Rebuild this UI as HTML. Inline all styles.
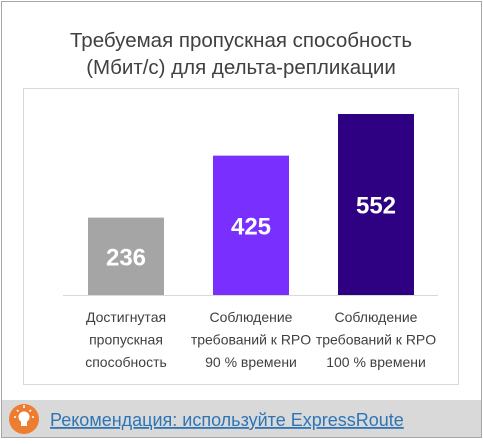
<!DOCTYPE html>
<html><head><meta charset="utf-8"><style>
body{margin:0;width:483px;height:439px;overflow:hidden;background:#fff;font-family:"Segoe UI","Liberation Sans","DejaVu Sans",sans-serif}
</style></head><body>
<svg width="483" height="439" xmlns="http://www.w3.org/2000/svg" font-family="'Liberation Sans','DejaVu Sans',sans-serif">
<rect x="1.5" y="1.5" width="480" height="436" fill="#fff" stroke="#a6a6a6"/>
<text x="241" y="47" text-anchor="middle" font-size="20.5" fill="#404040">Требуемая пропускная способность</text>
<text x="241" y="74" text-anchor="middle" font-size="20.5" fill="#404040">(Мбит/с) для дельта-репликации</text>
<rect x="23.5" y="88.5" width="435" height="296" fill="#fff" stroke="#d9d9d9"/>
<g id="bars"></g>
<line x1="63" x2="438" y1="295.5" y2="295.5" stroke="#d9d9d9"/>
<g id="labels"></g>
<rect x="2" y="400" width="479" height="37" fill="#d9d9d9"/>
<circle cx="24" cy="419" r="15" fill="#ed7d31"/>
<g fill="#fff" stroke="#fff">
<circle cx="24" cy="417" r="5.5" stroke="none"/>
<rect x="21" y="421" width="6" height="5" stroke="none"/>
<line x1="24" y1="405" x2="24" y2="408" stroke-width="1.5"/>
<line x1="14" y1="417" x2="16" y2="417" stroke-width="1.5"/>
<line x1="32" y1="417" x2="34" y2="417" stroke-width="1.5"/>
<line x1="17" y1="410" x2="18.5" y2="411.5" stroke-width="1.5"/>
<line x1="31" y1="410" x2="29.5" y2="411.5" stroke-width="1.5"/>
</g>
<text x="50" y="426" font-size="18" fill="#2e75b6" text-decoration="underline">Рекомендация: используйте ExpressRoute</text>
</svg>
<script>
const categories=[["Достигнутая","пропускная","способность"],["Соблюдение","требований к RPO","90 % времени"],["Соблюдение","требований к RPO","100 % времени"]];
const values=[236,425,552];
const colors=["#a5a5a5","#7930ff","#2e0082"];
const ns="http://www.w3.org/2000/svg";
const baseY=295, scale=181/552;
const yPos=v=>baseY-v*scale;
const xCenter=i=>126+i*125;
const bw=76;
const gb=document.getElementById('bars'), gl=document.getElementById('labels');
values.forEach((v,i)=>{
 const r=document.createElementNS(ns,'rect');
 r.setAttribute('x',xCenter(i)-bw/2);r.setAttribute('y',yPos(v));
 r.setAttribute('width',bw);r.setAttribute('height',baseY-yPos(v));
 r.setAttribute('fill',colors[i]);
 
 
 gb.appendChild(r);
 const t=document.createElementNS(ns,'text');
 t.setAttribute('x',xCenter(i));t.setAttribute('y',(yPos(v)+baseY)/2+9);
 t.setAttribute('text-anchor','middle');t.setAttribute('font-size','24');
 t.setAttribute('font-weight','bold');t.setAttribute('fill','#fff');
 t.textContent=v;
 
 
 gb.appendChild(t);
 categories[i].forEach((line,j)=>{
  const c=document.createElementNS(ns,'text');
  c.setAttribute('x',xCenter(i));c.setAttribute('y',322+j*22.5);
  c.setAttribute('text-anchor','middle');c.setAttribute('font-size','14');
  c.setAttribute('fill','#404040');
  c.textContent=line;
  
  
  gl.appendChild(c);
 });
});
</script>
</body></html>
